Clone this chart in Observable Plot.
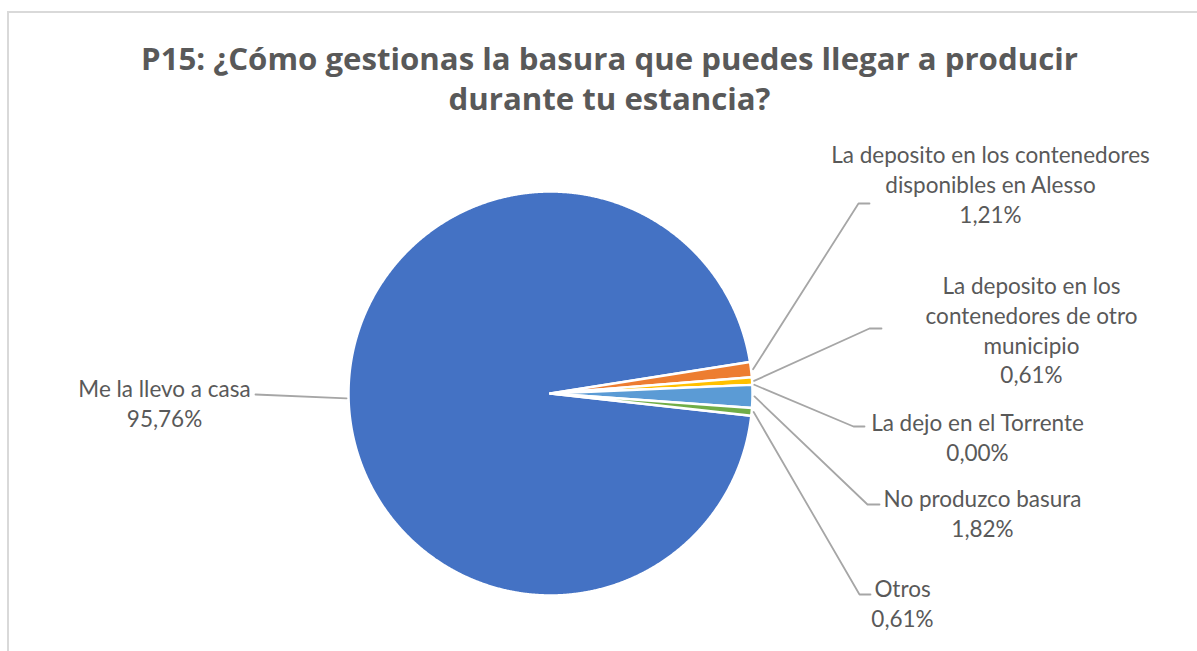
<!DOCTYPE html>
<html><head><meta charset="utf-8">
<script src="https://cdn.jsdelivr.net/npm/d3@7"></script>
<script src="https://cdn.jsdelivr.net/npm/@observablehq/plot@0.6"></script>
<style>
html,body{margin:0;padding:0;background:#fff;overflow:hidden;width:1197px;height:651px;}
#frame{position:absolute;left:7px;top:11px;width:1400px;height:800px;border-left:2px solid #d9d9d9;border-top:2px solid #d9d9d9;}
#title{position:absolute;left:0;top:0;width:1219px;height:130px;text-align:center;font-family:"Open Sans",sans-serif;font-weight:bold;color:#595959;font-size:31.2px;line-height:40px;padding-top:38px;box-sizing:border-box;white-space:nowrap;}
#chart{position:absolute;left:0;top:130px;}
</style></head>
<body>
<div id="frame"></div>
<div id="title">P15: ¿Cómo gestionas la basura que puedes llegar a producir<br>durante tu estancia?</div>
<div id="chart"></div>
<script>
// ---- data ----
const categories = [
  "Me la llevo a casa",
  "La deposito en los contenedores disponibles en Alesso",
  "La deposito en los contenedores de otro municipio",
  "La dejo en el Torrente",
  "No produzco basura",
  "Otros"
];
const values = [95.76, 1.21, 0.61, 0.00, 1.82, 0.61];
const percentLabels = ["95,76%", "1,21%", "0,61%", "0,00%", "1,82%", "0,61%"];
const wrappedNames = [
  "Me la llevo a casa",
  "La deposito en los contenedores\ndisponibles en Alesso",
  "La deposito en los\ncontenedores de otro\nmunicipio",
  "La dejo en el Torrente",
  "No produzco basura",
  "Otros"
];
const colors = ["#4472C4", "#ED7D31", "#FFC000", "#A5A5A5", "#5B9BD5", "#70AD47"];

// ---- layout ----
const W = 1197, H = 521, TOP = 130;
const cx = 550, cy = 393, r = 202;
const startDeg = 96.3;
const labelLayout = {
  "Me la llevo a casa": {path: [[255, 394]], tx: 164, ty: 402},
  "La deposito en los contenedores disponibles en Alesso": {path: [[858, 203], [869, 203]], tx: 990, ty: 182.5},
  "La deposito en los contenedores de otro municipio": {path: [[869, 328], [881, 328]], tx: 1031, ty: 328.5},
  "La dejo en el Torrente": {path: [[853, 426], [864, 426]], tx: 977, ty: 436},
  "No produzco basura": {path: [[867, 504], [879, 504]], tx: 982, ty: 512},
  "Otros": {path: [[859, 594], [870, 594]], tx: 902, ty: 602}
};

const data = categories.map((c, i) => ({category: c, value: values[i], pct: percentLabels[i], name: wrappedNames[i]}));
const a0 = startDeg * Math.PI / 180;
const arcs = d3.pie().sort(null).value(d => d.value).startAngle(a0).endAngle(a0 + 2 * Math.PI)(data);

const slicePts = [];
const leaderPts = [];
const labelData = [];
arcs.forEach(a => {
  const cat = a.data.category;
  slicePts.push({category: cat, x: cx, y: cy});
  const n = Math.max(2, Math.ceil((a.endAngle - a.startAngle) / (Math.PI / 720)));
  for (let k = 0; k <= n; k++) {
    const t = a.startAngle + (a.endAngle - a.startAngle) * k / n;
    slicePts.push({category: cat, x: cx + r * Math.sin(t), y: cy - r * Math.cos(t)});
  }
  slicePts.push({category: cat, x: cx, y: cy});
  const mid = (a.startAngle + a.endAngle) / 2;
  const L = labelLayout[cat];
  leaderPts.push({category: cat, x: cx + (r + 2) * Math.sin(mid), y: cy - (r + 2) * Math.cos(mid)});
  L.path.forEach(p => leaderPts.push({category: cat, x: p[0], y: p[1]}));
  labelData.push({tx: L.tx, ty: L.ty, text: a.data.name + "\n" + a.data.pct});
});

const chart = Plot.plot({
  width: W, height: H, margin: 0,
  style: {background: "transparent", overflow: "visible"},
  x: {domain: [0, W], range: [0, W], axis: null},
  y: {domain: [TOP, TOP + H], range: [0, H], axis: null},
  color: {domain: categories, range: colors},
  marks: [
    Plot.line(slicePts, {x: "x", y: "y", z: "category", fill: "category", stroke: "white", strokeWidth: 2.5, curve: "linear"}),
    Plot.line(leaderPts, {x: "x", y: "y", z: "category", stroke: "#a6a6a6", strokeWidth: 1.8}),
    Plot.text(labelData, {x: "tx", y: "ty", text: "text", fill: "#595959", fontSize: 22.5, fontFamily: "Lato, sans-serif", lineHeight: 1.33, textAnchor: "middle"})
  ]
});
document.getElementById("chart").appendChild(chart);
</script>
</body></html>
